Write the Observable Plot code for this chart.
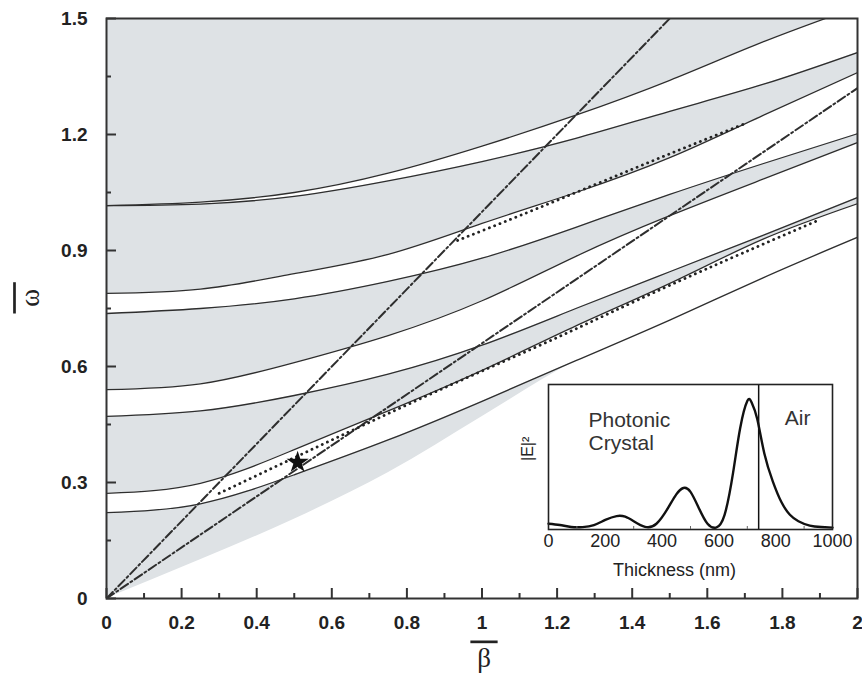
<!DOCTYPE html>
<html>
<head>
<meta charset="utf-8">
<script src="https://cdn.jsdelivr.net/npm/d3@7"></script>
<script src="https://cdn.jsdelivr.net/npm/@observablehq/plot@0.6"></script>
<style>
  body { margin: 0; background: #fff; }
  #fig { position: relative; width: 862px; height: 682px; }
  #inset { position: absolute; left: 500px; top: 374px; }
</style>
</head>
<body>
<div id="fig"><div id="main"></div><div id="inset"></div></div>
<script>
// Normalised wavevector grid shared by all band-edge curves
const beta = [0, 0.25, 0.5, 0.75, 1, 1.25, 1.5, 1.75, 2];

// Lower edge of the first allowed band (white below it)
const band1Floor = [0, 0.10, 0.205, 0.325, 0.47, 0.615, 0.72, 0.83, 0.934];
// Band-gap edges (lower / upper) of the four gaps
const gap1Lower = [0.222, 0.245, 0.32, 0.41, 0.51, 0.615, 0.72, 0.83, 0.934];
const gap1Upper = [0.272, 0.298, 0.385, 0.485, 0.59, 0.705, 0.815, 0.93, 1.021];
const gap2Lower = [0.471, 0.485, 0.525, 0.58, 0.655, 0.75, 0.845, 0.94, 1.037];
const gap2Upper = [0.540, 0.555, 0.61, 0.68, 0.77, 0.885, 0.99, 1.085, 1.179];
const gap3Lower = [0.737, 0.75, 0.775, 0.82, 0.88, 0.96, 1.045, 1.125, 1.202];
const gap3Upper = [0.789, 0.80, 0.84, 0.89, 0.97, 1.05, 1.14, 1.25, 1.36];
const gap4Lower = [1.016, 1.02, 1.04, 1.08, 1.13, 1.19, 1.26, 1.33, 1.412];
const gap4Upper = [1.016, 1.025, 1.05, 1.10, 1.17, 1.25, 1.34, 1.44, 1.53];

// Light lines: air and glass substrate
const airBeta = [0, 1.5], airOmega = [0, 1.5];
const subBeta = [0, 2], subOmega = [0, 1.32];

// Bloch surface wave branches
const bsw1Beta = [0.30, 0.6, 0.9, 1.2, 1.5, 1.9];
const bsw1Omega = [0.272, 0.41, 0.545, 0.675, 0.81, 0.98];
const bsw2Beta = [0.935, 1.1, 1.3, 1.5, 1.7];
const bsw2Omega = [0.926, 0.99, 1.07, 1.15, 1.228];

// Operating point
const markBeta = [0.509], markOmega = [0.352];

// Tick values
const xMajor = [0, 0.2, 0.4, 0.6, 0.8, 1, 1.2, 1.4, 1.6, 1.8, 2];
const xMinor = [0.1, 0.3, 0.5, 0.7, 0.9, 1.1, 1.3, 1.5, 1.7, 1.9];
const yMajor = [0, 0.3, 0.6, 0.9, 1.2, 1.5];
const yMinor = [0.15, 0.45, 0.75, 1.05, 1.35];

// Inset: field intensity profile across the stack
const thickness = [0, 40, 80, 120, 160, 200, 240, 270, 300, 340, 380, 420, 450, 475, 500, 530, 560, 590, 620, 650, 675, 700, 715, 735, 760, 790, 820, 850, 880, 920, 960, 1000];
const fieldSq   = [0.03, 0.02, 0.005, 0.004, 0.02, 0.06, 0.09, 0.085, 0.05, 0.006, 0.03, 0.15, 0.26, 0.31, 0.28, 0.15, 0.03, 0.0, 0.1, 0.43, 0.78, 0.99, 0.98, 0.85, 0.58, 0.36, 0.2, 0.1, 0.05, 0.015, 0.004, 0.0];
const airInterface = [740];
const insetTicks = [0, 200, 400, 600, 800, 1000];
const insetMinor = [100, 300, 500, 700, 900];

// Axis titles (drawn with an overbar)
const xTitle = "\u00a0β\u00a0";
const yTitle = "\u00a0ω\u00a0";

const rows = beta.map((b, i) => ({
  b, floor: band1Floor[i],
  g1lo: gap1Lower[i], g1hi: gap1Upper[i],
  g2lo: gap2Lower[i], g2hi: gap2Upper[i],
  g3lo: gap3Lower[i], g3hi: gap3Upper[i],
  g4lo: gap4Lower[i], g4hi: gap4Upper[i]
}));
const pts = (xs, ys) => xs.map((x, i) => ({x, y: ys[i]}));

const GREY = "#dee2e5";
const INK = "#2e2e2e";
const gaps = [["g1lo", "g1hi"], ["g2lo", "g2hi"], ["g3lo", "g3hi"], ["g4lo", "g4hi"]];
const edges = ["g1lo", "g1hi", "g2lo", "g2hi", "g3lo", "g3hi", "g4lo", "g4hi"];
const serif = "'Liberation Serif', 'DejaVu Serif', serif";

const main = Plot.plot({
  width: 862, height: 682,
  marginLeft: 106, marginRight: 5, marginTop: 18, marginBottom: 84,
  x: {domain: [0, 2], axis: null},
  y: {domain: [0, 1.5], axis: null},
  style: {fontFamily: "'Liberation Sans', Arial, sans-serif", color: "#222"},
  marks: [
    Plot.frame({fill: GREY}),
    Plot.areaY(rows, {x: "b", y1: 0, y2: "floor", fill: "white", curve: "monotone-x", clip: true}),
    ...gaps.map(([lo, hi]) => Plot.areaY(rows, {x: "b", y1: lo, y2: hi, fill: "white", curve: "natural", clip: true})),
    ...edges.map(e => Plot.line(rows, {x: "b", y: e, curve: "natural", stroke: INK, strokeWidth: 1.3, clip: true})),
    Plot.line(pts(airBeta, airOmega), {x: "x", y: "y", stroke: INK, strokeWidth: 2, strokeDasharray: "9,3,2,3", clip: true}),
    Plot.line(pts(subBeta, subOmega), {x: "x", y: "y", stroke: INK, strokeWidth: 2, strokeDasharray: "9,3,2,3", clip: true}),
    Plot.line(pts(bsw1Beta, bsw1Omega), {x: "x", y: "y", curve: "natural", stroke: "#222", strokeWidth: 2.8, strokeLinecap: "round", strokeDasharray: "0.1,5.6"}),
    Plot.line(pts(bsw2Beta, bsw2Omega), {x: "x", y: "y", curve: "natural", stroke: "#222", strokeWidth: 2.8, strokeLinecap: "round", strokeDasharray: "0.1,5.6"}),
    Plot.dot(pts(markBeta, markOmega), {x: "x", y: "y", symbol: "star", r: 7, fill: "#111"}),
    Plot.frame({stroke: "#333", strokeWidth: 2}),
    // inward ticks
    Plot.axisX(xMajor, {tickSize: -10, tickFormat: () => "", stroke: "#333", strokeWidth: 2, label: null}),
    Plot.axisX(xMinor, {tickSize: -5, tickFormat: () => "", stroke: "#333", strokeWidth: 2, label: null}),
    Plot.axisY(yMajor, {tickSize: -10, tickFormat: () => "", stroke: "#333", strokeWidth: 2, label: null}),
    Plot.axisY(yMinor, {tickSize: -5, tickFormat: () => "", stroke: "#333", strokeWidth: 2, label: null}),
    // tick labels
    Plot.axisX(xMajor, {tickSize: 0, tickPadding: 17, tickFormat: d => String(d), fontSize: 19, fontWeight: "bold", label: null}),
    Plot.axisY(yMajor, {tickSize: 0, tickPadding: 19, tickFormat: d => d === 0 ? "0" : d.toFixed(1), fontSize: 19, fontWeight: "bold", label: null}),
    // axis titles
    Plot.text([xTitle], {frameAnchor: "bottom", dx: 2, dy: 68, fontSize: 27, fontFamily: serif, fill: "#222"}),
    Plot.text([yTitle], {frameAnchor: "left", dx: -76, dy: 5, rotate: -90, fontSize: 27, fontFamily: serif, fill: "#222"})
  ]
});
// overbar on the axis titles
d3.select(main).selectAll("text")
  .filter(function() { return this.textContent === xTitle || this.textContent === yTitle; })
  .style("text-decoration", "overline")
  .style("text-decoration-thickness", "2px");
document.getElementById("main").append(main);

const inset = Plot.plot({
  width: 352, height: 220,
  marginLeft: 48, marginRight: 20, marginTop: 10, marginBottom: 65,
  x: {domain: [0, 1000], axis: null},
  y: {domain: [-0.015, 1.12], axis: null},
  style: {background: "transparent", fontFamily: "'Liberation Sans', Arial, sans-serif", color: "#222"},
  marks: [
    Plot.frame({fill: "white"}),
    Plot.line(pts(thickness, fieldSq), {x: "x", y: "y", curve: "natural", stroke: "#111", strokeWidth: 2.4}),
    Plot.ruleX(airInterface, {stroke: "#111", strokeWidth: 1.5}),
    Plot.frame({stroke: "#222", strokeWidth: 1.6}),
    Plot.axisX(insetMinor, {tickSize: -3, tickFormat: () => "", stroke: "#666", label: null}),
    Plot.axisX(insetTicks, {tickSize: 0, tickPadding: 5, tickFormat: d => String(d), fontSize: 18, label: null}),
    Plot.text(["Thickness (nm)"], {frameAnchor: "bottom", dx: -16, dy: 46, fontSize: 18, fill: "#222"}),
    Plot.text(["|E|²"], {frameAnchor: "left", dx: -21, dy: 4, rotate: -90, fontSize: 16, fill: "#222"}),
    Plot.text(["Photonic\nCrystal"], {frameAnchor: "top-left", dx: 40, dy: 26, textAnchor: "start", lineHeight: 1.1, fontSize: 21, fill: "#333"}),
    Plot.text(["Air"], {frameAnchor: "top-right", dx: -22, dy: 26, textAnchor: "end", fontSize: 21, fill: "#333"})
  ]
});
document.getElementById("inset").append(inset);
</script>
</body>
</html>
